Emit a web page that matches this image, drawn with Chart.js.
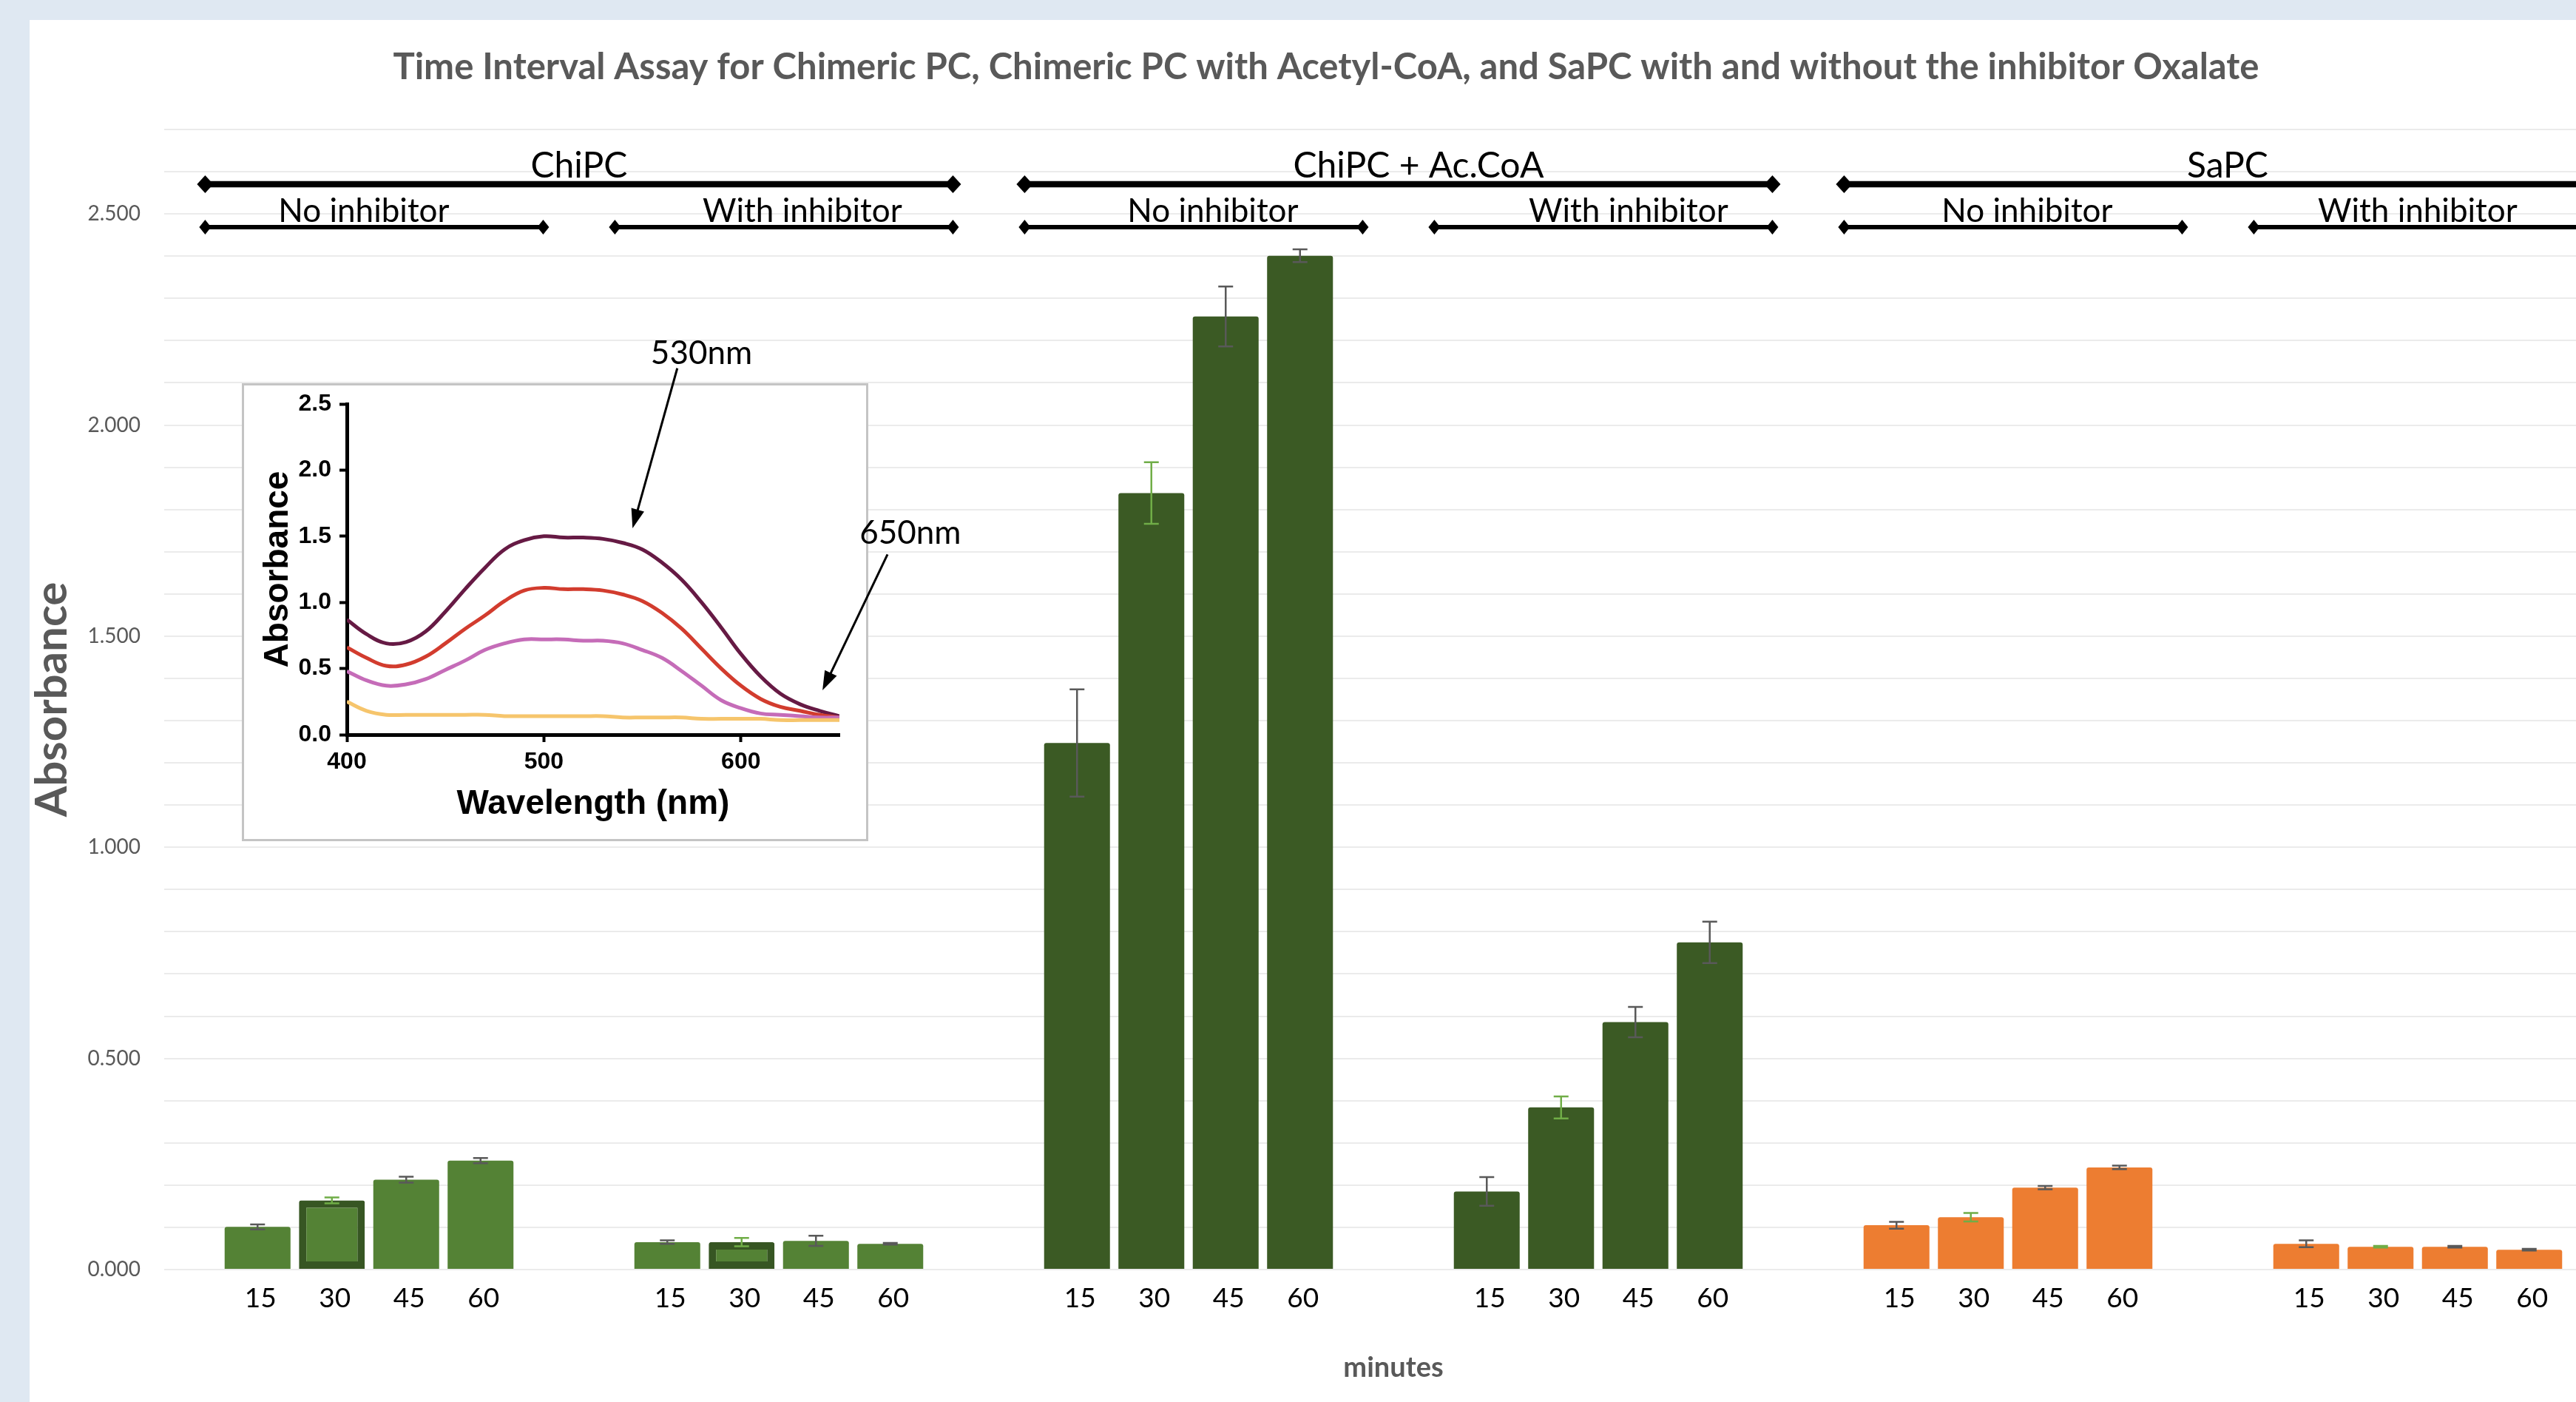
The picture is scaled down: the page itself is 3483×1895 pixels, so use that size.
<!DOCTYPE html>
<html>
<head>
<meta charset="utf-8">
<script src="https://cdn.jsdelivr.net/npm/chart.js@4.4.1/dist/chart.umd.min.js"></script>
<style>
  html, body { margin: 0; padding: 0; overflow: hidden; width: 3483px; height: 1895px; background: #dfe8f2; }
  #panel { position: absolute; left: 40px; top: 27px; width: 3520px; height: 1868px; background: #ffffff; }
  #main { position: absolute; left: 0; top: 0; }
  #inset { position: absolute; left: 287px; top: 423px; }
</style>
</head>
<body>
<div id="panel">
  <canvas id="main" width="3520" height="1868"></canvas>
  <canvas id="inset" width="983" height="690"></canvas>
</div>
<script>
// --- données ---
const groups = ['ChiPC No inhibitor', 'ChiPC With inhibitor', 'ChiPC + Ac.CoA No inhibitor',
                'ChiPC + Ac.CoA With inhibitor', 'SaPC No inhibitor', 'SaPC With inhibitor'];
const minutes = ['15', '30', '45', '60'];
const abs15 = [0.101, 0.065, 1.247, 0.185, 0.105, 0.061];
const abs30 = [0.164, 0.065, 1.839, 0.384, 0.124, 0.054];
const abs45 = [0.213, 0.068, 2.257, 0.586, 0.194, 0.054];
const abs60 = [0.258, 0.061, 2.401, 0.775, 0.242, 0.047];
const err15 = [0.006, 0.004, 0.127, 0.034, 0.008, 0.008];
const err30 = [0.007, 0.010, 0.073, 0.026, 0.010, 0.002];
const err45 = [0.007, 0.012, 0.071, 0.036, 0.004, 0.002];
const err60 = [0.006, 0.002, 0.015, 0.049, 0.004, 0.002];
const enzymes = ['ChiPC', 'ChiPC + Ac.CoA', 'SaPC'];
const conditions = ['No inhibitor', 'With inhibitor'];

// inset : spectres d'absorbance
const wavelengths = [400, 410, 420, 430, 440, 450, 460, 470, 480, 490, 500, 510, 520,
                     530, 540, 550, 560, 570, 580, 590, 600, 610, 620, 630, 640, 650];
const specPurple = [0.87, 0.76, 0.69, 0.70, 0.78, 0.93, 1.10, 1.26, 1.40, 1.47, 1.50, 1.49, 1.49,
                    1.48, 1.45, 1.40, 1.30, 1.17, 1.00, 0.81, 0.61, 0.44, 0.31, 0.23, 0.18, 0.14];
const specRed = [0.66, 0.58, 0.52, 0.53, 0.59, 0.69, 0.80, 0.90, 1.01, 1.09, 1.11, 1.10, 1.10,
                 1.09, 1.06, 1.01, 0.92, 0.80, 0.65, 0.50, 0.37, 0.27, 0.21, 0.18, 0.15, 0.13];
const specPink = [0.48, 0.41, 0.37, 0.38, 0.42, 0.49, 0.56, 0.64, 0.69, 0.72, 0.72, 0.72, 0.71,
                  0.71, 0.69, 0.64, 0.58, 0.48, 0.37, 0.26, 0.20, 0.16, 0.15, 0.14, 0.13, 0.13];
const specYellow = [0.25, 0.18, 0.15, 0.15, 0.15, 0.15, 0.15, 0.15, 0.14, 0.14, 0.14, 0.14, 0.14,
                    0.14, 0.13, 0.13, 0.13, 0.13, 0.12, 0.12, 0.12, 0.12, 0.11, 0.11, 0.11, 0.11];

// --- styles / mise en page ---
const FONT = 'Lato, "Open Sans", sans-serif';
const INSET_FONT = '"Liberation Sans", Arial, sans-serif';
const GREY = '#595959';
const groupColors = ['#548235', '#548235', '#3b5a24', '#3b5a24', '#ed7d31', '#ed7d31'];
const topNudge = [0, 27, 13];
const subNudge = [-14, 25, 26, 34, 19, -7];

const series = [abs15, abs30, abs45, abs60];
const errors = [err15, err30, err45, err60];

const datasets = minutes.map((m, k) => ({
  label: m,
  data: series[k],
  errors: errors[k],
  errorColor: m === '30' ? '#70ad47' : GREY,
  backgroundColor: groupColors,
  borderColor: m === '30' ? ['#375623', '#375623', '#375623', '#375623', '#375623', '#375623'] : groupColors,
  borderWidth: m === '30' ? [10, 10, 0, 0, 0, 0] : 0,
  borderSkipped: false,
  borderRadius: { topLeft: 3, topRight: 3, bottomLeft: 0, bottomRight: 0 },
  categoryPercentage: 0.7256,
  barPercentage: 0.886
}));

// barres d'erreur
const errorBars = {
  id: 'errorBars',
  afterDatasetsDraw(chart) {
    const ctx = chart.ctx, y = chart.scales.y;
    chart.data.datasets.forEach((ds, di) => {
      chart.getDatasetMeta(di).data.forEach((bar, i) => {
        const v = ds.data[i], e = ds.errors[i];
        const t = y.getPixelForValue(v + e), b = y.getPixelForValue(v - e);
        ctx.save();
        ctx.strokeStyle = ds.errorColor;
        ctx.lineWidth = 2.5;
        ctx.beginPath();
        ctx.moveTo(bar.x, t); ctx.lineTo(bar.x, b);
        ctx.moveTo(bar.x - 10, t); ctx.lineTo(bar.x + 10, t);
        ctx.moveTo(bar.x - 10, b); ctx.lineTo(bar.x + 10, b);
        ctx.stroke();
        ctx.restore();
      });
    });
  }
};

// étiquettes 15/30/45/60 sous chaque barre
const minuteLabels = {
  id: 'minuteLabels',
  afterDraw(chart) {
    const ctx = chart.ctx, area = chart.chartArea;
    ctx.save();
    ctx.font = '37px ' + FONT;
    ctx.fillStyle = '#000';
    ctx.textAlign = 'center';
    ctx.textBaseline = 'middle';
    chart.data.datasets.forEach((ds, di) => {
      chart.getDatasetMeta(di).data.forEach(bar => {
        ctx.fillText(ds.label, bar.x + 4, area.bottom + 39);
      });
    });
    ctx.restore();
  }
};

function diamondLine(ctx, a, b, y, lw, hw, hh) {
  ctx.fillStyle = '#000';
  ctx.fillRect(a, y - lw / 2, b - a, lw);
  [a, b].forEach(x => {
    ctx.beginPath();
    ctx.moveTo(x - hw, y); ctx.lineTo(x, y - hh); ctx.lineTo(x + hw, y); ctx.lineTo(x, y + hh);
    ctx.closePath();
    ctx.fill();
  });
}

// accolades ChiPC / ChiPC + Ac.CoA / SaPC
const brackets = {
  id: 'brackets',
  afterDraw(chart) {
    const ctx = chart.ctx, area = chart.chartArea, x = chart.scales.x;
    const cw = x.getPixelForValue(1) - x.getPixelForValue(0);
    ctx.save();
    ctx.textAlign = 'center';
    ctx.textBaseline = 'middle';
    enzymes.forEach((name, k) => {
      const a = x.getPixelForValue(2 * k) - 0.40 * cw;
      const b = x.getPixelForValue(2 * k + 1) + 0.425 * cw;
      diamondLine(ctx, a, b, area.top + 74, 8.5, 11, 12);
      ctx.fillStyle = '#000';
      ctx.font = '48px ' + FONT;
      ctx.fillText(name, (a + b) / 2 + topNudge[k], area.top + 50);
      conditions.forEach((c, j) => {
        const g = 2 * k + j;
        const a2 = x.getPixelForValue(g) - 0.40 * cw;
        const b2 = x.getPixelForValue(g) + 0.425 * cw;
        diamondLine(ctx, a2, b2, area.top + 132, 6, 8, 10);
        ctx.fillStyle = '#000';
        ctx.font = '44px ' + FONT;
        ctx.fillText(c, (a2 + b2) / 2 + subNudge[g], area.top + 111);
      });
    });
    ctx.restore();
  }
};

new Chart(document.getElementById('main'), {
  type: 'bar',
  data: { labels: groups, datasets: datasets },
  options: {
    responsive: false,
    animation: false,
    layout: { padding: { left: 0, right: 14, top: 0, bottom: 0 } },
    plugins: {
      legend: { display: false },
      tooltip: { enabled: false },
      title: {
        display: true,
        text: 'Time Interval Assay for Chimeric PC, Chimeric PC with Acetyl-CoA, and SaPC with and without the inhibitor Oxalate',
        color: GREY,
        font: { family: FONT, size: 49, weight: 'bold', lineHeight: 1.2 },
        padding: { top: 34.6, bottom: 54.6 }
      }
    },
    scales: {
      x: {
        grid: { display: false },
        border: { display: false },
        ticks: { display: false },
        title: {
          display: true, text: 'minutes', color: GREY,
          font: { family: FONT, size: 38, weight: 'bold', lineHeight: 1 },
          padding: { top: 0, bottom: 27 }
        },
        afterFit(s) { s.height = 179; }
      },
      y: {
        min: 0, max: 2.7,
        grid: { color: '#ebebeb', lineWidth: 2, drawTicks: false },
        border: { display: false },
        ticks: {
          stepSize: 0.1, padding: 32, color: GREY,
          font: { family: FONT, size: 28 },
          callback: v => Math.abs(v * 2 - Math.round(v * 2)) < 1e-6 ? v.toFixed(3) : ''
        },
        title: {
          display: true, text: 'Absorbance', color: GREY,
          font: { family: FONT, size: 60, weight: 'bold', lineHeight: 1 },
          padding: { top: 1, bottom: 0 }
        },
        afterFit(s) { s.width = 182; }
      }
    }
  },
  plugins: [errorBars, minuteLabels, brackets]
});

// --- inset : spectre ---
const insetBox = { w: 847, h: 619, top: 68 };
const insetArrows = [
  { label: '530nm', text: [580, 2.88], from: [567.7, 2.77], to: [545, 1.56] },
  { label: '650nm', text: [686, 1.525], from: [674.4, 1.363], to: [641.4, 0.335] }
];

const insetFrame = {
  id: 'insetFrame',
  beforeDraw(chart) {
    const ctx = chart.ctx;
    ctx.save();
    ctx.fillStyle = '#fff';
    ctx.fillRect(0, insetBox.top, insetBox.w, insetBox.h);
    ctx.strokeStyle = '#c4c4c4';
    ctx.lineWidth = 3;
    ctx.strokeRect(1.5, insetBox.top + 1.5, insetBox.w - 3, insetBox.h - 3);
    ctx.restore();
  },
  afterDraw(chart) {
    const ctx = chart.ctx, x = chart.scales.x, y = chart.scales.y;
    ctx.save();
    insetArrows.forEach(a => {
      const x1 = x.getPixelForValue(a.from[0]), y1 = y.getPixelForValue(a.from[1]);
      const x2 = x.getPixelForValue(a.to[0]), y2 = y.getPixelForValue(a.to[1]);
      const ang = Math.atan2(y2 - y1, x2 - x1);
      ctx.strokeStyle = '#000';
      ctx.lineWidth = 3;
      ctx.beginPath();
      ctx.moveTo(x1, y1);
      ctx.lineTo(x2 - 20 * Math.cos(ang), y2 - 20 * Math.sin(ang));
      ctx.stroke();
      ctx.fillStyle = '#000';
      ctx.beginPath();
      ctx.moveTo(x2, y2);
      ctx.lineTo(x2 - 26 * Math.cos(ang) + 9 * Math.sin(ang), y2 - 26 * Math.sin(ang) - 9 * Math.cos(ang));
      ctx.lineTo(x2 - 26 * Math.cos(ang) - 9 * Math.sin(ang), y2 - 26 * Math.sin(ang) + 9 * Math.cos(ang));
      ctx.closePath();
      ctx.fill();
      ctx.font = '44px ' + FONT;
      ctx.textAlign = 'center';
      ctx.textBaseline = 'middle';
      ctx.fillText(a.label, x.getPixelForValue(a.text[0]), y.getPixelForValue(a.text[1]));
    });
    ctx.restore();
  }
};

const toPoints = arr => wavelengths.map((w, i) => ({ x: w, y: arr[i] }));
const insetAxis = {
  border: { display: true, color: '#000', width: 5 },
  grid: { drawOnChartArea: false, drawTicks: true, tickLength: 10, tickWidth: 4, tickColor: '#000' }
};

new Chart(document.getElementById('inset'), {
  type: 'line',
  data: {
    datasets: [
      { data: toPoints(specYellow), borderColor: '#f6c56c' },
      { data: toPoints(specPink), borderColor: '#c56cb8' },
      { data: toPoints(specRed), borderColor: '#d23c2e' },
      { data: toPoints(specPurple), borderColor: '#661a44' }
    ]
  },
  options: {
    responsive: false,
    animation: false,
    layout: { padding: { left: 0, right: 175, top: 96, bottom: 0 } },
    elements: { point: { radius: 0 }, line: { borderWidth: 5, tension: 0.4 } },
    plugins: { legend: { display: false }, tooltip: { enabled: false } },
    scales: {
      x: Object.assign({}, insetAxis, {
        type: 'linear', min: 400, max: 650,
        ticks: { stepSize: 100, padding: 8, color: '#000', font: { family: INSET_FONT, size: 32, weight: 'bold' } },
        afterBuildTicks(s) { s.ticks = s.ticks.filter(t => t.value % 100 === 0); },
        title: {
          display: true, text: 'Wavelength (nm)', color: '#000',
          font: { family: INSET_FONT, size: 46, weight: 'bold', lineHeight: 1 },
          padding: { top: 0, bottom: 30 }
        },
        afterFit(s) { s.height = 147; }
      }),
      y: Object.assign({}, insetAxis, {
        type: 'linear', min: 0, max: 2.5,
        ticks: {
          stepSize: 0.5, padding: 11, color: '#000',
          font: { family: INSET_FONT, size: 32, weight: 'bold' },
          callback: v => v.toFixed(1)
        },
        title: {
          display: true, text: 'Absorbance', color: '#000',
          font: { family: INSET_FONT, size: 46, weight: 'bold', lineHeight: 1 },
          padding: { top: 26.5, bottom: 0 }
        },
        afterFit(s) { s.width = 142; }
      })
    }
  },
  plugins: [insetFrame]
});
</script>
</body>
</html>
